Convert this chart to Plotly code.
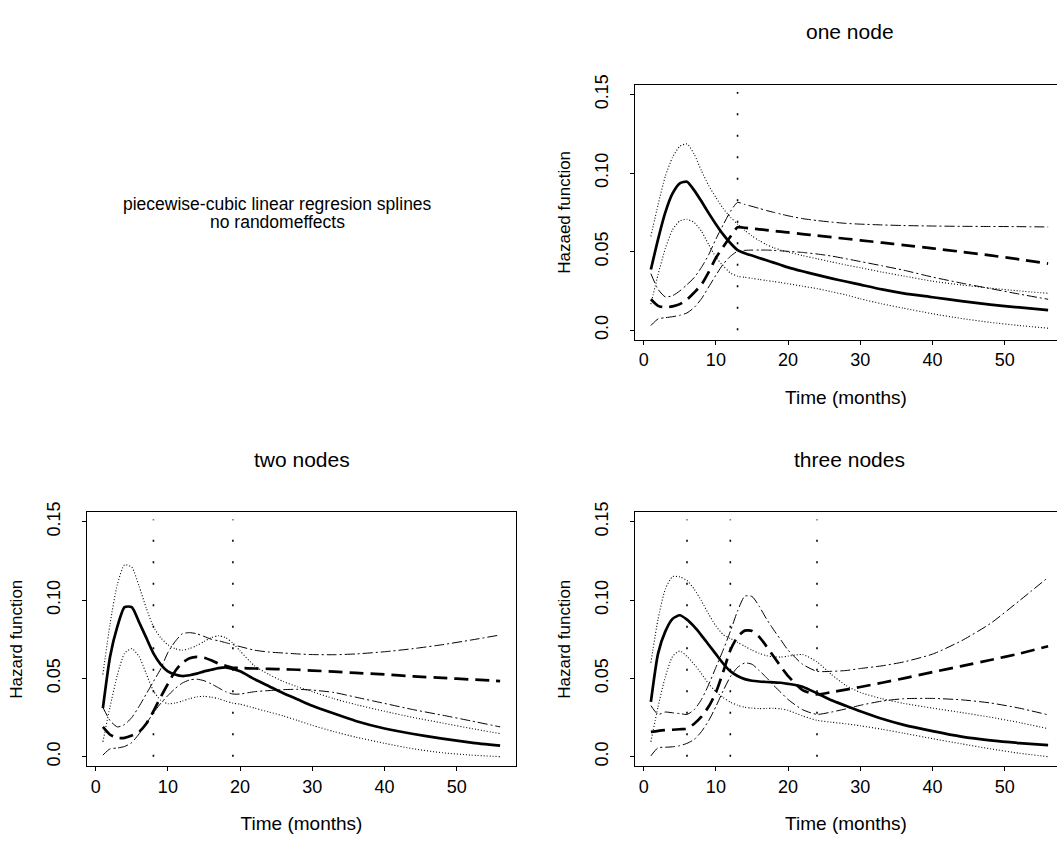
import plotly.graph_objects as go

W, H = 1057, 846

# Follow-up time grid (months)
months = [1, 2, 3, 4, 5, 6, 7, 8, 9, 10, 11, 12, 13, 14, 15, 16, 17, 18, 19, 20,
          22, 24, 26, 28, 30, 33, 36, 40, 44, 48, 52, 56]

x_ticks = [0, 10, 20, 30, 40, 50]
y_ticks = [0.0, 0.05, 0.10, 0.15]
y_tick_text = ["0.0", "0.05", "0.10", "0.15"]

# ---- one node (knot at 13 months) ----
one_knots = [13]
one_est1 = [0.0386, 0.058, 0.075, 0.087, 0.0935, 0.0945, 0.089, 0.082, 0.0745, 0.0675,
            0.061, 0.0555, 0.051, 0.049, 0.0475, 0.046, 0.0445, 0.043, 0.0415, 0.040,
            0.0375, 0.0352, 0.033, 0.031, 0.029, 0.026, 0.0235, 0.021, 0.0185, 0.0163, 0.0145, 0.0128]
one_up1 = [0.0597, 0.080, 0.098, 0.110, 0.117, 0.1185, 0.112, 0.1015, 0.092, 0.0845,
           0.0775, 0.072, 0.0675, 0.0635, 0.060, 0.057, 0.0545, 0.0525, 0.051, 0.0498,
           0.0475, 0.0455, 0.0435, 0.0415, 0.0398, 0.037, 0.0345, 0.0312, 0.0288, 0.0268, 0.025, 0.0235]
one_lo1 = [0.0166, 0.0355, 0.052, 0.064, 0.0695, 0.0706, 0.0685, 0.063, 0.0545, 0.0465,
           0.041, 0.0365, 0.0343, 0.0337, 0.033, 0.0323, 0.0316, 0.031, 0.0303, 0.0296,
           0.028, 0.0265, 0.0245, 0.0225, 0.020, 0.0168, 0.014, 0.0105, 0.0075, 0.005, 0.003, 0.0013]
one_est2 = [0.0197, 0.0155, 0.0145, 0.0152, 0.0166, 0.0195, 0.024, 0.029, 0.037, 0.046,
            0.053, 0.0595, 0.0655, 0.0652, 0.0647, 0.0642, 0.0637, 0.0632, 0.0627, 0.0622,
            0.0612, 0.0602, 0.0592, 0.0582, 0.0572, 0.0557, 0.0542, 0.0521, 0.0499, 0.0476, 0.0451, 0.0424]
one_up2 = [0.036, 0.026, 0.0212, 0.022, 0.025, 0.029, 0.0335, 0.040, 0.048, 0.058,
           0.067, 0.0755, 0.0813, 0.080, 0.0788, 0.0775, 0.0762, 0.075, 0.0739, 0.0728,
           0.071, 0.0698, 0.0688, 0.068, 0.0675, 0.067, 0.0666, 0.0663, 0.0661, 0.066, 0.0659, 0.0657]
one_lo2 = [0.003, 0.0072, 0.008, 0.0086, 0.0095, 0.011, 0.0145, 0.020, 0.0275, 0.035,
           0.042, 0.047, 0.0502, 0.0508, 0.051, 0.051, 0.051, 0.0508, 0.0505, 0.0502,
           0.0495, 0.0485, 0.0472, 0.0455, 0.0437, 0.041, 0.0382, 0.0338, 0.030, 0.0265, 0.023, 0.0197]

# ---- two nodes (knots at 8 and 19 months) ----
two_knots = [8, 19]
two_est1 = [0.031, 0.064, 0.083, 0.0955, 0.0955, 0.086, 0.076, 0.066, 0.059, 0.0545,
            0.0525, 0.0515, 0.052, 0.053, 0.0545, 0.0555, 0.0565, 0.057, 0.056, 0.0545,
            0.0495, 0.045, 0.0405, 0.0365, 0.0325, 0.0275, 0.0228, 0.018, 0.0145, 0.0115, 0.009, 0.007]
two_up1 = [0.0525, 0.085, 0.110, 0.1225, 0.121, 0.109, 0.095, 0.083, 0.076, 0.0715,
           0.069, 0.068, 0.069, 0.071, 0.0735, 0.076, 0.0772, 0.076, 0.0725, 0.0675,
           0.058, 0.0525, 0.048, 0.0445, 0.0415, 0.037, 0.0333, 0.029, 0.025, 0.0215, 0.018, 0.0147]
two_lo1 = [0.0095, 0.032, 0.052, 0.066, 0.069, 0.064, 0.053, 0.042, 0.036, 0.0338,
           0.0342, 0.0355, 0.037, 0.0382, 0.0385, 0.038, 0.037, 0.0355, 0.0342, 0.0335,
           0.031, 0.0285, 0.026, 0.023, 0.020, 0.016, 0.0125, 0.0085, 0.005, 0.0025, 0.001, 0.0]
two_est2 = [0.019, 0.014, 0.012, 0.012, 0.0135, 0.0158, 0.021, 0.029, 0.038, 0.0465,
            0.0545, 0.060, 0.0628, 0.0637, 0.0632, 0.0615, 0.0595, 0.058, 0.0568, 0.0566,
            0.0563, 0.0561, 0.0558, 0.0555, 0.055, 0.0543, 0.0535, 0.0525, 0.0513, 0.0503, 0.0493, 0.0483]
two_up2 = [0.0315, 0.023, 0.019, 0.0205, 0.025, 0.032, 0.040, 0.048, 0.056, 0.0665,
           0.0735, 0.0785, 0.0792, 0.0785, 0.0768, 0.075, 0.074, 0.0728, 0.0715, 0.0703,
           0.068, 0.0668, 0.0662, 0.0656, 0.0652, 0.0651, 0.0656, 0.067, 0.069, 0.0715, 0.0745, 0.0777]
two_lo2 = [0.001, 0.005, 0.0055, 0.0065, 0.009, 0.0145, 0.021, 0.028, 0.034, 0.039,
           0.0435, 0.047, 0.049, 0.0495, 0.0485, 0.0465, 0.044, 0.0415, 0.040, 0.040,
           0.0415, 0.0422, 0.0428, 0.043, 0.0425, 0.041, 0.038, 0.034, 0.030, 0.0265, 0.0228, 0.019]

# ---- three nodes (knots at 6, 12 and 24 months) ----
three_knots = [6, 12, 24]
three_est1 = [0.035, 0.066, 0.080, 0.088, 0.0903, 0.0875, 0.083, 0.0775, 0.0715, 0.0655,
              0.0595, 0.0545, 0.0515, 0.0495, 0.0485, 0.048, 0.0477, 0.0475, 0.0472, 0.0465,
              0.0447, 0.0405, 0.036, 0.0325, 0.029, 0.0242, 0.0203, 0.0163, 0.0128, 0.0104, 0.0087, 0.0074]
three_up1 = [0.060, 0.088, 0.107, 0.115, 0.1148, 0.1125, 0.107, 0.0995, 0.091, 0.0835,
             0.078, 0.0755, 0.073, 0.0705, 0.068, 0.066, 0.0645, 0.0638, 0.0636, 0.0642,
             0.0652, 0.0605, 0.0525, 0.0455, 0.041, 0.037, 0.034, 0.031, 0.0282, 0.0252, 0.0218, 0.0179]
three_lo1 = [0.0095, 0.032, 0.051, 0.064, 0.0675, 0.064, 0.059, 0.053, 0.0465, 0.0415,
             0.0378, 0.0348, 0.0328, 0.0315, 0.031, 0.0307, 0.0308, 0.0309, 0.0305, 0.0296,
             0.026, 0.0232, 0.022, 0.021, 0.0197, 0.0175, 0.015, 0.0115, 0.0082, 0.005, 0.0022, 0.0]
three_est2 = [0.0158, 0.0165, 0.017, 0.0172, 0.0175, 0.0178, 0.021, 0.0255, 0.032, 0.041,
              0.054, 0.068, 0.0765, 0.0805, 0.0803, 0.0765, 0.0705, 0.064, 0.0575, 0.0515,
              0.0425, 0.0398, 0.0412, 0.0428, 0.0445, 0.0472, 0.050, 0.054, 0.0578, 0.0617, 0.0658, 0.0705]
three_up2 = [0.0326, 0.027, 0.0285, 0.028, 0.0275, 0.027, 0.030, 0.0365, 0.046, 0.057,
             0.068, 0.080, 0.093, 0.1025, 0.1023, 0.096, 0.088, 0.081, 0.0745, 0.068,
             0.059, 0.0545, 0.0545, 0.055, 0.0563, 0.058, 0.0605, 0.0655, 0.074, 0.085, 0.0995, 0.1145]
three_lo2 = [0.0005, 0.0057, 0.006, 0.0063, 0.007, 0.0085, 0.011, 0.016, 0.023, 0.032,
             0.042, 0.051, 0.057, 0.0598, 0.059, 0.055, 0.0505, 0.0455, 0.041, 0.0365,
             0.030, 0.027, 0.0285, 0.0305, 0.0328, 0.0355, 0.037, 0.0372, 0.0363, 0.0343, 0.031, 0.0267]

FONT = "Liberation Sans, Arial, Helvetica, sans-serif"
INK = "black"

# plot regions in pixels: (left, right) and (top, bottom)
BOX_LEFT_COL = (87, 516)
BOX_RIGHT_COL = (635, 1064)
BOX_TOP_ROW = (75, 333)
BOX_BOT_ROW = (508, 765)

X_LO, X_HI = -1.2, 58.2
PX_PER_MONTH = (BOX_LEFT_COL[1] - BOX_LEFT_COL[0]) / (X_HI - X_LO)
Y_RANGE = [-0.006, 0.156]
KNOT_SPAN = [0.0, 0.1515]


def xdomain(col):
    left, right = col
    return [left / W, min(right, W) / W]


def xrange(col):
    left, right = col
    visible = min(right, W) - left
    return [X_LO, X_LO + visible / PX_PER_MONTH]


def ydomain(row):
    top, bottom = row
    return [(H - bottom) / H, (H - top) / H]


panels = [
    dict(name="one node", ylab="Hazaed function", knots=one_knots, col=BOX_RIGHT_COL, row=BOX_TOP_ROW,
         est1=one_est1, up1=one_up1, lo1=one_lo1, est2=one_est2, up2=one_up2, lo2=one_lo2),
    dict(name="two nodes", ylab="Hazard function", knots=two_knots, col=BOX_LEFT_COL, row=BOX_BOT_ROW,
         est1=two_est1, up1=two_up1, lo1=two_lo1, est2=two_est2, up2=two_up2, lo2=two_lo2),
    dict(name="three nodes", ylab="Hazard function", knots=three_knots, col=BOX_RIGHT_COL, row=BOX_BOT_ROW,
         est1=three_est1, up1=three_up1, lo1=three_lo1, est2=three_est2, up2=three_up2, lo2=three_lo2),
]

styles = {
    "up1": dict(width=1.1, dash="1px,2px"),
    "lo1": dict(width=1.1, dash="1px,2px"),
    "up2": dict(width=1.0, dash="10px,3px,2px,3px"),
    "lo2": dict(width=1.0, dash="10px,3px,2px,3px"),
    "est2": dict(width=2.7, dash="14px,7px"),
    "est1": dict(width=2.7, dash="solid"),
}

fig = go.Figure()
layout = dict(
    width=W, height=H,
    margin=dict(l=0, r=0, t=0, b=0),
    paper_bgcolor="white", plot_bgcolor="white",
    showlegend=False,
    font=dict(family=FONT, size=18, color=INK),
    annotations=[],
)

for i, p in enumerate(panels, start=1):
    sfx = "" if i == 1 else str(i)
    xa, ya = "x" + sfx, "y" + sfx
    # knot positions
    for k in p["knots"]:
        fig.add_trace(go.Scatter(x=[k, k], y=KNOT_SPAN, mode="lines", xaxis=xa, yaxis=ya,
                                 line=dict(color=INK, width=1.6, dash="2px,19.5px"),
                                 hoverinfo="skip"))
    for key in ["up1", "lo1", "up2", "lo2", "est2", "est1"]:
        st = styles[key]
        fig.add_trace(go.Scatter(x=months, y=p[key], mode="lines", xaxis=xa, yaxis=ya,
                                 line=dict(color=INK, width=st["width"], dash=st["dash"],
                                           shape="spline", smoothing=0.6)))
    full_box = p["col"][1] <= W
    layout["xaxis" + sfx] = dict(
        domain=xdomain(p["col"]), range=xrange(p["col"]), anchor=ya,
        tickmode="array", tickvals=x_ticks, ticks="outside", ticklen=4, tickwidth=1, tickcolor=INK,
        showline=True, linecolor=INK, linewidth=1, mirror=True,
        showgrid=False, zeroline=False, ticklabelstandoff=0,
        tickfont=dict(size=18),
        title=dict(text="Time (months)", font=dict(size=19), standoff=21),
    )
    layout["yaxis" + sfx] = dict(
        domain=ydomain(p["row"]), range=Y_RANGE, anchor=xa,
        tickmode="array", tickvals=y_ticks, ticktext=y_tick_text, tickangle=-90,
        ticks="outside", ticklen=4, tickwidth=1, tickcolor=INK,
        showline=True, linecolor=INK, linewidth=1, mirror=full_box,
        showgrid=False, zeroline=False, ticklabelstandoff=15,
        tickfont=dict(size=18),
        title=dict(text=p["ylab"], font=dict(size=17), standoff=16),
    )
    cx = (p["col"][0] + p["col"][1]) / 2
    title_y = p["row"][0] - 54
    layout["annotations"].append(dict(
        text=p["name"], x=cx / W, y=1 - title_y / H, xref="paper", yref="paper",
        showarrow=False, xanchor="center", yanchor="middle", font=dict(size=21)))

# description text in the empty upper-left cell
for txt, ypx in [("piecewise-cubic linear regresion splines", 196), ("no randomeffects", 214)]:
    layout["annotations"].append(dict(
        text=txt, x=277 / W, y=1 - ypx / H, xref="paper", yref="paper",
        showarrow=False, xanchor="center", yanchor="middle", font=dict(size=17.5)))

fig.update_layout(**layout)
fig.write_html("out.html")
